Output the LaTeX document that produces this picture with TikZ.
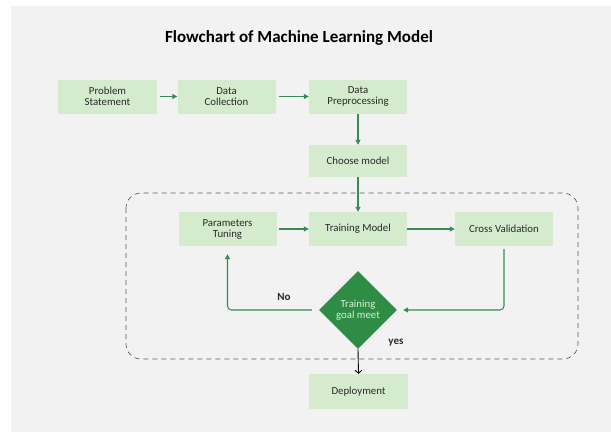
\documentclass[tikz,border=0pt]{standalone}
\usepackage{fontspec}
\setmainfont{Carlito}
\usetikzlibrary{arrows.meta,shapes.geometric,positioning}
\definecolor{pagebg}{HTML}{F2F2F2}
\definecolor{boxfill}{HTML}{D5EBCD}
\definecolor{flowgreen}{HTML}{3A8A55}
\definecolor{decgreen}{HTML}{2F8C45}
\definecolor{decfont}{HTML}{D8F0D8}
\definecolor{txt}{HTML}{2A2A2A}
\definecolor{dashgray}{HTML}{5E5E5E}
\tikzset{
  stepbox/.style={rectangle, fill=boxfill, draw=none, minimum width=98pt,
    minimum height=34pt, inner sep=2pt, align=center, text=txt,
    font=\fontsize{10.8}{11}\selectfont},
  decision/.style={diamond, fill=decgreen, draw=none, minimum width=78pt,
    minimum height=78pt, inner sep=0pt, align=center, text=decfont,
    font=\fontsize{10.8}{11}\selectfont},
  flow/.style={draw=flowgreen, line width=1.05pt,
    -{Triangle[length=5pt,width=5pt]}},
  loopflow/.style={flow, rounded corners=4pt},
  exitflow/.style={draw=black, line width=0.9pt,
    -{Straight Barb[length=3pt,width=7pt]}},
  lbl/.style={text=txt, font=\fontsize{11}{13}\selectfont\bfseries}
}
\begin{document}
\begin{tikzpicture}[x=1pt,y=-1pt]
  % canvas
  \useasboundingbox (0,0) rectangle (611,432);
  \fill[pagebg] (11,6) rectangle (611,432);

  % title
  \node[text=black, font=\fontsize{17}{20}\selectfont\bfseries] (title) at (299,38)
    {Flowchart of Machine Learning Model};

  % preparation steps
  \node[stepbox, minimum width=99pt] (problem) at (107.5,96.5) {Problem\\Statement};
  \node[stepbox] (collect) at (226.5,96.5) {Data\\Collection};
  \node[stepbox] (prep) at (358,96.5) {Data\\Preprocessing};
  \node[stepbox, minimum height=32pt] (choose) at (358,161) {Choose model};

  % training loop frame
  \draw[dashgray, line width=0.7pt, dash pattern=on 5pt off 4pt, rounded corners=15pt]
    (126,193) rectangle (578,359);

  \node[stepbox] (tuning) at (227.5,229) {Parameters\\Tuning};
  \node[stepbox] (train) at (358,229) {Training Model};
  \node[stepbox] (cross) at (504,229) {Cross Validation};
  \node[decision] (goal) at (358,310) {Training\\goal meet};

  \node[stepbox, minimum width=99pt, minimum height=35pt] (deploy) at (358.5,391.5) {Deployment};

  % connectors
  \draw[flow, shorten <=3pt] (problem) -- (collect);
  \draw[flow, shorten <=3pt] (collect) -- (prep);
  \draw[flow] (prep) -- (choose);
  \draw[flow] (choose) -- (train);
  \draw[flow, shorten <=2pt] (tuning) -- (train);
  \draw[flow] (train) -- (cross);
  \draw[loopflow, shorten <=3pt, shorten >=6pt] (cross.south) |- (goal.east);
  \draw[loopflow, shorten <=7pt, shorten >=8pt] (goal.west) -| (tuning.south);
  \draw[exitflow] (goal.south) -- (deploy.north);

  % branch labels
  \node[lbl] (nolabel) at (284,297) {No};
  \node[lbl] (yeslabel) at (396,343) {yes};
\end{tikzpicture}
\end{document}
